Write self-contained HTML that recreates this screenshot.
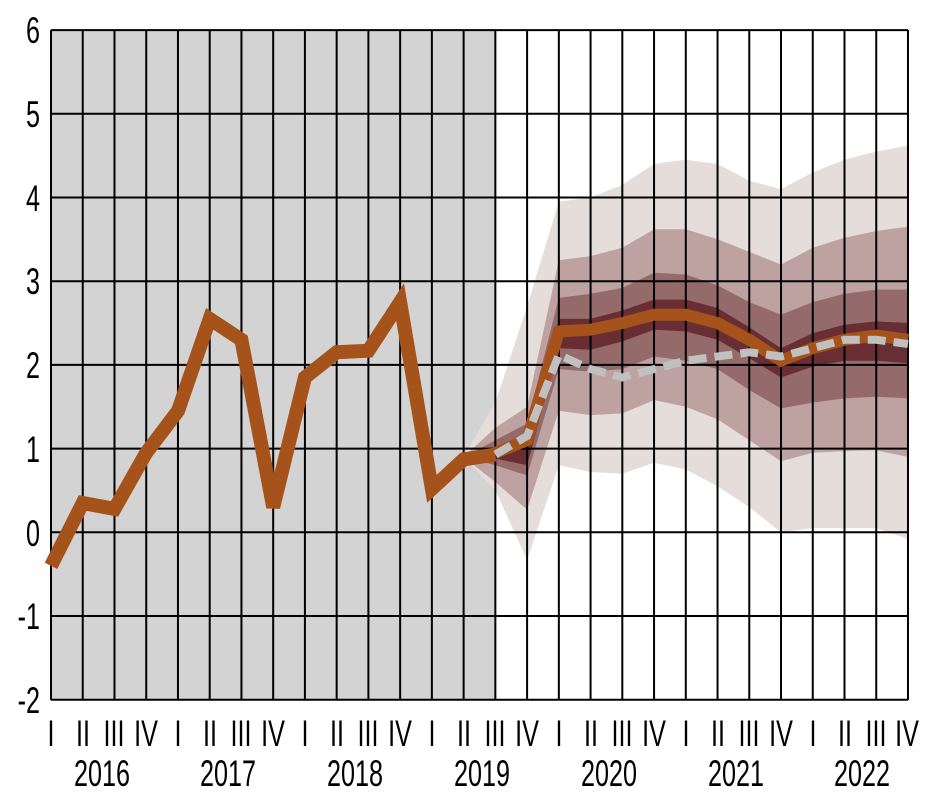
<!DOCTYPE html>
<html><head><meta charset="utf-8"><style>
html,body{margin:0;padding:0;background:#fff;}
svg{display:block;}
text{font-family:"Liberation Sans Narrow","Liberation Sans",sans-serif;font-size:37px;fill:#000;}
</style></head><body>
<svg id="c" width="931" height="807" xmlns="http://www.w3.org/2000/svg">
<rect x="51" y="30" width="444" height="670" fill="#d3d3d3"/>
<g id="bands"></g>
<g id="grid" stroke="#000" stroke-width="2"></g>
<g id="lines"></g>
<g id="ylab">
<text transform="translate(40,43) scale(0.68,1)" text-anchor="end">6</text>
<text transform="translate(40,127) scale(0.68,1)" text-anchor="end">5</text>
<text transform="translate(40,211) scale(0.68,1)" text-anchor="end">4</text>
<text transform="translate(40,294) scale(0.68,1)" text-anchor="end">3</text>
<text transform="translate(40,378) scale(0.68,1)" text-anchor="end">2</text>
<text transform="translate(40,462) scale(0.68,1)" text-anchor="end">1</text>
<text transform="translate(40,546) scale(0.68,1)" text-anchor="end">0</text>
<text transform="translate(40,629) scale(0.68,1)" text-anchor="end">-1</text>
<text transform="translate(40,713) scale(0.68,1)" text-anchor="end">-2</text>
</g>
<g id="qlab" text-anchor="middle">
<text transform="translate(51,746) scale(0.68,1)">I</text>
<text transform="translate(83,746) scale(0.68,1)">II</text>
<text transform="translate(114,746) scale(0.68,1)">III</text>
<text transform="translate(146,746) scale(0.68,1)">IV</text>
<text transform="translate(178,746) scale(0.68,1)">I</text>
<text transform="translate(210,746) scale(0.68,1)">II</text>
<text transform="translate(241,746) scale(0.68,1)">III</text>
<text transform="translate(273,746) scale(0.68,1)">IV</text>
<text transform="translate(305,746) scale(0.68,1)">I</text>
<text transform="translate(337,746) scale(0.68,1)">II</text>
<text transform="translate(368,746) scale(0.68,1)">III</text>
<text transform="translate(400,746) scale(0.68,1)">IV</text>
<text transform="translate(432,746) scale(0.68,1)">I</text>
<text transform="translate(464,746) scale(0.68,1)">II</text>
<text transform="translate(495,746) scale(0.68,1)">III</text>
<text transform="translate(527,746) scale(0.68,1)">IV</text>
<text transform="translate(559,746) scale(0.68,1)">I</text>
<text transform="translate(591,746) scale(0.68,1)">II</text>
<text transform="translate(622,746) scale(0.68,1)">III</text>
<text transform="translate(654,746) scale(0.68,1)">IV</text>
<text transform="translate(686,746) scale(0.68,1)">I</text>
<text transform="translate(718,746) scale(0.68,1)">II</text>
<text transform="translate(749,746) scale(0.68,1)">III</text>
<text transform="translate(781,746) scale(0.68,1)">IV</text>
<text transform="translate(813,746) scale(0.68,1)">I</text>
<text transform="translate(845,746) scale(0.68,1)">II</text>
<text transform="translate(876,746) scale(0.68,1)">III</text>
<text transform="translate(907,746) scale(0.68,1)">IV</text>
</g>
<g text-anchor="middle">
<text transform="translate(102,786) scale(0.68,1)">2016</text>
<text transform="translate(228,786) scale(0.68,1)">2017</text>
<text transform="translate(355,786) scale(0.68,1)">2018</text>
<text transform="translate(482,786) scale(0.68,1)">2019</text>
<text transform="translate(609,786) scale(0.68,1)">2020</text>
<text transform="translate(736,786) scale(0.68,1)">2021</text>
<text transform="translate(862,786) scale(0.68,1)">2022</text>
</g>
</svg>
<script>
(function(){
var NS="http://www.w3.org/2000/svg";
function X(i){return 51+i*31.74;}
function Y(v){return 532.3-83.7*v;}
function el(p,t,a){var e=document.createElementNS(NS,t);for(var k in a)e.setAttribute(k,a[k]);p.appendChild(e);return e;}
var med=[0.9,0.95,1.1,2.4,2.42,2.5,2.6,2.6,2.5,2.3,2.05,2.2,2.3,2.35,2.3];
var bands=[
 ["#e5ddda",[0.9,1.55,2.7,3.95,4.0,4.15,4.4,4.45,4.4,4.2,4.1,4.3,4.45,4.55,4.62],[0.9,0.5,-0.33,0.8,0.72,0.7,0.83,0.75,0.55,0.3,0.0,0.05,0.05,0.05,-0.08]],
 ["#bea2a2",[0.9,1.25,1.5,3.25,3.3,3.4,3.62,3.62,3.5,3.35,3.2,3.4,3.52,3.6,3.65],[0.9,0.6,0.27,1.45,1.4,1.42,1.58,1.5,1.35,1.1,0.85,0.95,0.97,0.98,0.9]],
 ["#946b6a",[0.9,1.1,1.3,2.8,2.85,2.92,3.1,3.08,2.95,2.75,2.6,2.75,2.85,2.9,2.9],[0.9,0.8,0.68,1.95,1.92,1.95,2.1,2.05,1.95,1.7,1.48,1.55,1.6,1.62,1.6]],
 ["#682e34",[0.9,1.0,1.16,2.55,2.55,2.65,2.78,2.78,2.68,2.45,2.2,2.38,2.48,2.52,2.5],[0.9,0.88,0.8,2.2,2.18,2.28,2.42,2.4,2.3,2.08,1.85,1.98,2.05,2.05,2.02]]
];
var bg=document.getElementById("bands");
bands.forEach(function(b){
 var d="",i;
 for(i=0;i<15;i++)d+=(i?"L":"M")+X(13+i).toFixed(1)+","+Y(b[1][i]).toFixed(1);
 for(i=14;i>=0;i--)d+="L"+X(13+i).toFixed(1)+","+Y(b[2][i]).toFixed(1);
 el(bg,"path",{d:d+"Z",fill:b[0]});
});
var g=document.getElementById("grid");
for(var v=-2;v<=6;v++)el(g,"line",{x1:51,x2:908,y1:Y(v),y2:Y(v)});
for(var i=0;i<28;i++)el(g,"line",{x1:X(i),x2:X(i),y1:30,y2:700});
var L=document.getElementById("lines");
var hist=[-0.4,0.35,0.28,0.95,1.45,2.55,2.3,0.3,1.85,2.15,2.17,2.75,0.52,0.87,0.93];
var d="";
for(i=0;i<hist.length;i++)d+=(i?"L":"M")+X(i).toFixed(1)+","+Y(hist[i]).toFixed(1);
el(L,"path",{d:d,fill:"none",stroke:"#a5521b","stroke-width":14,"stroke-linejoin":"miter","stroke-miterlimit":3});
d="";
for(i=1;i<15;i++)d+=(i>1?"L":"M")+X(13+i).toFixed(1)+","+Y(med[i]).toFixed(1);
el(L,"path",{d:d,fill:"none",stroke:"#a5521b","stroke-width":12});
var dash=[0.93,1.15,2.12,1.95,1.85,1.95,2.05,2.1,2.15,2.1,2.2,2.3,2.3,2.25];
d="";
for(i=0;i<dash.length;i++)d+=(i?"L":"M")+X(14+i).toFixed(1)+","+Y(dash[i]).toFixed(1);
el(L,"path",{d:d,fill:"none",stroke:"#c0c0c0","stroke-width":8,"stroke-dasharray":"18 8"});
})();
</script>
</body></html>
